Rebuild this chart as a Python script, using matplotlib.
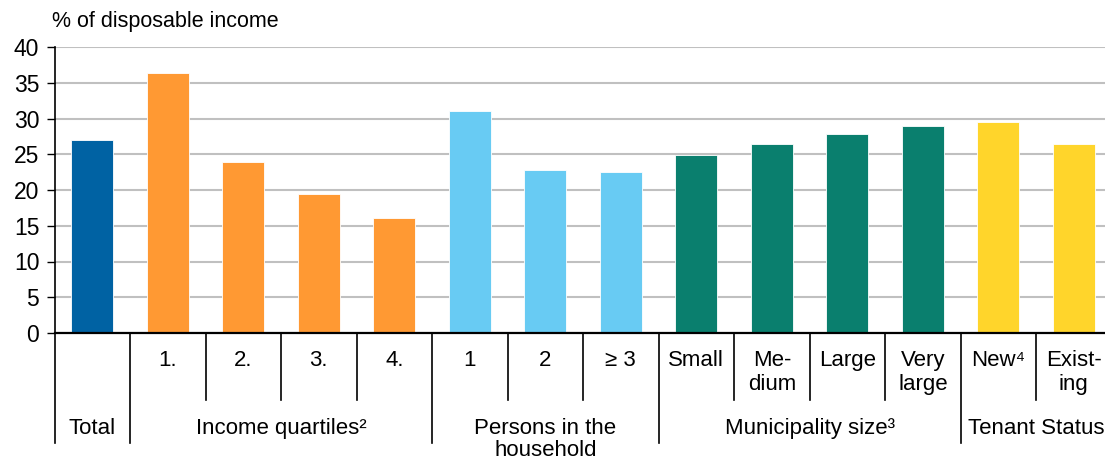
import matplotlib
matplotlib.use('Agg')
import matplotlib.pyplot as plt

plt.rcParams['font.family'] = ['Liberation Sans', 'DejaVu Sans']

# data
item_labels = ['', '1.', '2.', '3.', '4.', '1', '2', '\u2265 3',
               'Small', 'Me-\ndium', 'Large', 'Very\nlarge', 'New\u2074', 'Exist-\ning']
values = [27.0, 36.3, 23.9, 19.5, 16.1, 31.1, 22.8, 22.45,
          24.85, 26.5, 27.9, 28.9, 29.5, 26.5]
group_labels = ['Total', 'Income quartiles\u00b2', 'Persons in the\nhousehold',
                'Municipality size\u00b3', 'Tenant Status']
group_sizes = [1, 4, 3, 4, 2]
group_colors = ['#0062A3', '#FF9933', '#68CBF3', '#0A7F6E', '#FFD52B']
yticks = [0, 5, 10, 15, 20, 25, 30, 35, 40]

W, H = 1105, 461
fig = plt.figure(figsize=(W / 100, H / 100), dpi=100)
# axes: left at 54.6px, zero line at 333px, 40 at 47px, slot width 75.5px
ax = fig.add_axes([54.6 / W, (H - 333) / H, 14 * 75.5 / W, 286 / H])

colors = []
for c, n in zip(group_colors, group_sizes):
    colors += [c] * n
x = list(range(len(values)))
ax.bar(x, values, width=0.56, color=colors, edgecolor='white', linewidth=0.6, zorder=3)

ax.set_xlim(-0.5, len(values) - 0.5)
ax.set_ylim(0, 40)
ax.set_yticks(yticks)
ax.tick_params(axis='y', length=6, width=1, pad=5, labelsize=16.5, colors='black')
ax.set_xticks([])
ax.yaxis.grid(True, color='#C0C0C0', linewidth=1.5, zorder=0)
for s in ['top', 'right']:
    ax.spines[s].set_visible(False)
ax.spines['left'].set_linewidth(1.2)
ax.spines['bottom'].set_linewidth(1.6)
ax.spines['bottom'].set_zorder(4)

tr = ax.get_xaxis_transform()
short_y = -67 / 286
long_y = -110 / 286

# group boundaries
bounds = [-0.5]
for n in group_sizes:
    bounds.append(bounds[-1] + n)
for i in range(len(values) + 1):
    xb = i - 0.5
    yb = long_y if xb in bounds else short_y
    ax.plot([xb, xb], [0, yb], color='black', linewidth=1.2, transform=tr, clip_on=False)

for xi, lab in zip(x, item_labels):
    ax.text(xi, -17 / 286, lab, transform=tr, ha='center', va='top',
            fontsize=16, linespacing=1.17, color='black')

for b0, n, lab in zip(bounds, group_sizes, group_labels):
    ax.text(b0 + n / 2, -85 / 286, lab, transform=tr, ha='center', va='top',
            fontsize=16, linespacing=1.08, color='black')

fig.text(52 / W, 1 - 21 / H, '% of disposable income', ha='left', va='center',
         fontsize=15.5, color='black')

fig.savefig('out.png', dpi=100)
